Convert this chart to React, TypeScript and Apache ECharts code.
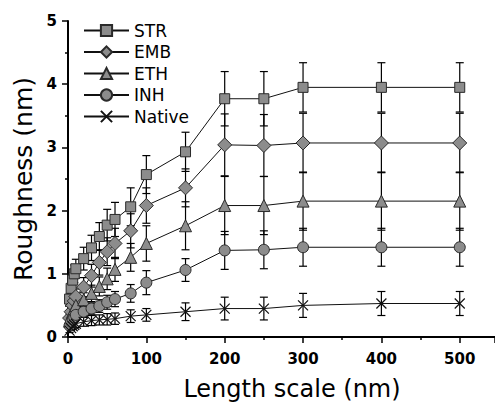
import React, { useEffect, useRef } from "react";
import * as echarts from "echarts";

const xValues = [2, 4, 6, 8, 10, 20, 30, 40, 50, 60, 80, 100, 150, 200, 250, 300, 400, 500];

const strValues = [0.6, 0.77, 0.9, 1.0, 1.08, 1.24, 1.41, 1.59, 1.77, 1.86, 2.06, 2.57, 2.93, 3.77, 3.77, 3.95, 3.95, 3.95];
const strErrors = [0.08, 0.1, 0.12, 0.14, 0.15, 0.18, 0.2, 0.22, 0.25, 0.27, 0.3, 0.3, 0.31, 0.43, 0.43, 0.39, 0.39, 0.39];

const embValues = [0.3, 0.4, 0.5, 0.57, 0.64, 0.79, 0.97, 1.18, 1.35, 1.48, 1.68, 2.08, 2.36, 3.04, 3.03, 3.07, 3.07, 3.07];
const embErrors = [0.06, 0.08, 0.1, 0.11, 0.12, 0.15, 0.18, 0.2, 0.22, 0.24, 0.27, 0.28, 0.3, 0.49, 0.49, 0.47, 0.47, 0.47];

const ethValues = [0.25, 0.33, 0.4, 0.45, 0.5, 0.59, 0.69, 0.8, 0.92, 1.07, 1.26, 1.48, 1.76, 2.08, 2.08, 2.15, 2.15, 2.15];
const ethErrors = [0.05, 0.06, 0.07, 0.08, 0.09, 0.11, 0.13, 0.15, 0.17, 0.19, 0.22, 0.28, 0.38, 0.46, 0.46, 0.46, 0.46, 0.46];

const inhValues = [0.18, 0.24, 0.28, 0.31, 0.35, 0.4, 0.45, 0.49, 0.55, 0.6, 0.69, 0.86, 1.06, 1.37, 1.38, 1.42, 1.42, 1.42];
const inhErrors = [0.04, 0.05, 0.06, 0.06, 0.07, 0.08, 0.09, 0.1, 0.11, 0.12, 0.14, 0.19, 0.18, 0.3, 0.3, 0.3, 0.3, 0.3];

const nativeValues = [0.1, 0.14, 0.17, 0.19, 0.21, 0.24, 0.26, 0.27, 0.28, 0.29, 0.33, 0.35, 0.4, 0.45, 0.45, 0.5, 0.53, 0.53];
const nativeErrors = [0.03, 0.04, 0.05, 0.05, 0.06, 0.07, 0.08, 0.08, 0.09, 0.09, 0.1, 0.1, 0.14, 0.18, 0.18, 0.19, 0.19, 0.19];

const seriesNames = ["STR", "EMB", "ETH", "INH", "Native"];
const xTitle = "Length scale (nm)";
const yTitle = "Roughness (nm)";

const FONT = "DejaVu Sans";
const CROSS = "path://M0,0L10,10M10,0L0,10";

export default function App() {
  const ref = useRef<HTMLDivElement>(null);

  useEffect(() => {
    if (!ref.current) return;
    const chart = echarts.init(ref.current, null, { renderer: "svg" });

    const defs = [
      { name: "STR", values: strValues, errors: strErrors, symbol: "rect", size: 10 },
      { name: "EMB", values: embValues, errors: embErrors, symbol: "diamond", size: 14 },
      { name: "ETH", values: ethValues, errors: ethErrors, symbol: "triangle", size: 12 },
      { name: "INH", values: inhValues, errors: inhErrors, symbol: "circle", size: 11 },
      { name: "Native", values: nativeValues, errors: nativeErrors, symbol: CROSS, size: 10 },
    ];

    const errorSeries = defs.map((d) => ({
      type: "custom",
      name: d.name + " err",
      z: 2,
      silent: true,
      data: xValues.map((x, i) => [x, d.values[i] - d.errors[i], d.values[i] + d.errors[i]]),
      encode: { x: 0, y: [1, 2] },
      renderItem: (_params: any, api: any) => {
        const x = api.value(0);
        const lo = api.coord([x, api.value(1)]);
        const hi = api.coord([x, api.value(2)]);
        const hw = 4;
        const style = { stroke: "#000", lineWidth: 1.2 };
        return {
          type: "group",
          children: [
            { type: "line", shape: { x1: lo[0], y1: lo[1], x2: hi[0], y2: hi[1] }, style },
            { type: "line", shape: { x1: lo[0] - hw, y1: lo[1], x2: lo[0] + hw, y2: lo[1] }, style },
            { type: "line", shape: { x1: hi[0] - hw, y1: hi[1], x2: hi[0] + hw, y2: hi[1] }, style },
          ],
        };
      },
    }));

    const lineSeries = defs.map((d) => ({
      type: "line",
      name: d.name,
      z: 3,
      data: xValues.map((x, i) => [x, d.values[i]]),
      symbol: d.symbol,
      symbolSize: d.size,
      showAllSymbol: true,
      lineStyle: { color: "#111", width: 1 },
      itemStyle:
        d.name === "Native"
          ? { color: "transparent", borderColor: "#111", borderWidth: 1.2 }
          : { color: "#8c8c8c", borderColor: "#2a2a2a", borderWidth: 1 },
    }));

    chart.setOption({
      animation: false,
      backgroundColor: "#fff",
      textStyle: { fontFamily: FONT, color: "#000" },
      grid: { left: 68, top: 21, width: 427, height: 316 },
      legend: {
        data: seriesNames,
        orient: "vertical",
        left: 83,
        top: 22,
        padding: 0,
        itemWidth: 45,
        itemHeight: 14,
        itemGap: 4.5,
        textStyle: { fontFamily: FONT, fontSize: 17, color: "#000", lineHeight: 16 },
      },
      xAxis: {
        type: "value",
        min: 0,
        max: 545,
        interval: 100,
        name: xTitle,
        nameLocation: "middle",
        nameGap: 40,
        nameTextStyle: { fontFamily: FONT, fontSize: 24, color: "#000", padding: [0, 0, 0, 21] },
        axisLine: { show: true, onZero: false, lineStyle: { color: "#000", width: 2 } },
        axisTick: { show: true, length: 6, lineStyle: { color: "#000", width: 1.5 } },
        minorTick: { show: true, splitNumber: 2, length: 3, lineStyle: { color: "#000", width: 1.5 } },
        splitLine: { show: false },
        axisLabel: {
          margin: 14,
          fontFamily: FONT,
          fontSize: 15,
          fontWeight: "bold",
          color: "#000",
          showMaxLabel: false,
          formatter: (v: number) => (v % 100 === 0 && v <= 500 ? String(v) : ""),
        },
      },
      yAxis: {
        type: "value",
        min: 0,
        max: 5,
        interval: 1,
        name: yTitle,
        nameLocation: "middle",
        nameGap: 31,
        nameTextStyle: { fontFamily: FONT, fontSize: 25, color: "#000" },
        axisLine: { show: true, onZero: false, lineStyle: { color: "#000", width: 2 } },
        axisTick: { show: true, length: 6, lineStyle: { color: "#000", width: 1.5 } },
        minorTick: { show: true, splitNumber: 2, length: 3, lineStyle: { color: "#000", width: 1.5 } },
        splitLine: { show: false },
        axisLabel: {
          margin: 11,
          fontFamily: FONT,
          fontSize: 15,
          fontWeight: "bold",
          color: "#000",
        },
      },
      series: [...errorSeries, ...lineSeries],
    });

    return () => chart.dispose();
  }, []);

  return (
    <div
      ref={ref}
      style={{ position: "absolute", left: 0, top: 0, width: 495, height: 407 }}
    />
  );
}
